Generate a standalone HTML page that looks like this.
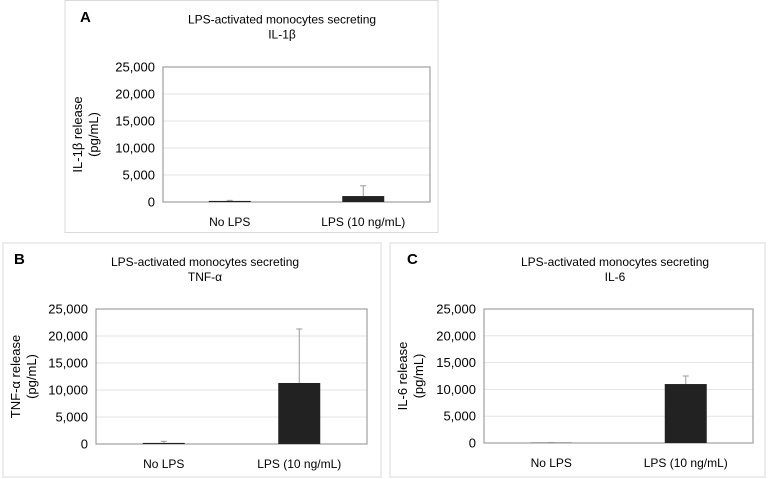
<!DOCTYPE html>
<html><head><meta charset="utf-8"><style>
body{margin:0;background:#fff;width:768px;height:479px;overflow:hidden;font-family:"Liberation Sans",sans-serif;}
svg{position:absolute;left:0;top:0}
</style></head><body>
<svg id="c" width="768" height="479" xmlns="http://www.w3.org/2000/svg"></svg>
<script>
const categories = ["No LPS", "LPS (10 ng/mL)"];
const yTicks = [0, 5000, 10000, 15000, 20000, 25000];
const tickLabels = ["0", "5,000", "10,000", "15,000", "20,000", "25,000"];
const il1bValues = [200, 1100];
const il1bErrors = [100, 1900];
const tnfValues = [200, 11300];
const tnfErrors = [300, 10000];
const il6Values = [50, 11000];
const il6Errors = [50, 1500];

const NS = "http://www.w3.org/2000/svg";
const svg = document.getElementById('c');
function mk(tag, attrs, parent, name) {
  const e = document.createElementNS(NS, tag);
  for (const k in attrs) e.setAttribute(k, attrs[k]);
  
  
  (parent || svg).appendChild(e);
  return e;
}
function txt(x, y, s, size, parent, name, anchor, weight) {
  const t = mk('text', {x: x, y: y, 'font-size': size, 'text-anchor': anchor || 'middle', fill: '#000', 'font-weight': weight || 'normal', 'font-family': '"Liberation Sans", sans-serif'}, parent, name);
  t.textContent = s;
  return t;
}
function panel(p) {
  const g = mk('g', {}, svg, 'panel-' + p.id);
  mk('rect', {x: p.bx, y: p.by, width: p.bw, height: p.bh, fill: '#fff', stroke: '#d9d9d9', 'stroke-width': 1}, g, 'panel-border');
  txt(p.lx, p.ly, p.letter, 15, g, 'panel-label', 'start', 'bold');
  const cx = p.tx;
  txt(cx, p.by + 23, 'LPS-activated monocytes secreting', 12, g, 'chart-title');
  txt(cx, p.by + 38, p.sub, 12, g, 'chart-subtitle');
  const ymax = 25000;
  const y = v => p.b - (v / ymax) * (p.b - p.t);
  yTicks.forEach((v, i) => {
    if (v > 0 && v < ymax) mk('line', {x1: p.l, x2: p.r, y1: y(v), y2: y(v), stroke: '#e3e3e3', 'stroke-width': 1}, g, 'gridline');
    txt(p.l - 8, y(v) + 4.5, tickLabels[i], 13, g, 'y-tick-label', 'end');
  });
  mk('rect', {x: p.l, y: p.t, width: p.r - p.l, height: p.b - p.t, fill: 'none', stroke: '#8c8c8c', 'stroke-width': 1}, g, 'plot-frame');
  const band = (p.r - p.l) / categories.length;
  const bw = 42;
  categories.forEach((c, i) => {
    const xc = p.l + band * (i + 0.5);
    const top = y(p.vals[i]);
    mk('rect', {x: xc - bw / 2, y: top, width: bw, height: p.b - top, fill: '#222'}, g, 'bar-' + i);
    const et = y(p.vals[i] + p.errs[i]);
    mk('line', {x1: xc, x2: xc, y1: top, y2: et, stroke: '#999', 'stroke-width': 1}, g, 'error-bar');
    mk('line', {x1: xc - 3, x2: xc + 3, y1: et, y2: et, stroke: '#999', 'stroke-width': 1}, g, 'error-cap');
    txt(xc, p.b + 24, c, 12, g, 'x-category-label');
  });
  const ay = (p.t + p.b) / 2, ax = p.bx + 24;
  txt(ax - 7, ay, p.ylab, 13, g, 'y-axis-title').setAttribute('transform', 'rotate(-90 ' + (ax - 7) + ' ' + ay + ')');
  txt(ax + 9, ay, '(pg/mL)', 13, g, 'y-axis-unit').setAttribute('transform', 'rotate(-90 ' + (ax + 9) + ' ' + ay + ')');
}
panel({id: 'a', letter: 'A', sub: 'IL-1β', ylab: 'IL-1β release', vals: il1bValues, errs: il1bErrors,
  bx: 65, by: 0.5, bw: 373, bh: 232, l: 163, r: 430, t: 67, b: 202, tx: 282, lx: 80, ly: 22});
panel({id: 'b', letter: 'B', sub: 'TNF-α', ylab: 'TNF-α release', vals: tnfValues, errs: tnfErrors,
  bx: 3, by: 243, bw: 378, bh: 234, l: 96, r: 367, t: 309, b: 444, tx: 205, lx: 14, ly: 264});
panel({id: 'c', letter: 'C', sub: 'IL-6', ylab: 'IL-6 release', vals: il6Values, errs: il6Errors,
  bx: 390, by: 243, bw: 375, bh: 234, l: 484, r: 753, t: 309, b: 443, tx: 615, lx: 407, ly: 264});
</script>
</body></html>
